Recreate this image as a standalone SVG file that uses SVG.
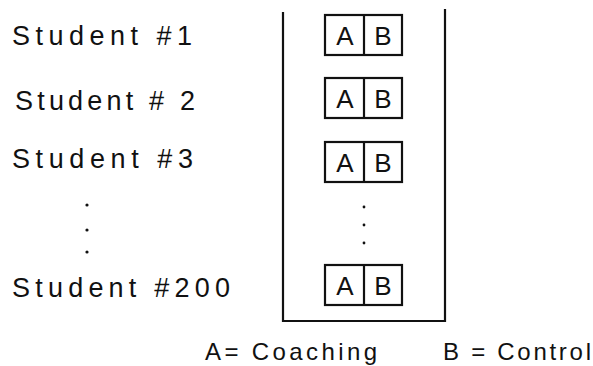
<svg xmlns="http://www.w3.org/2000/svg" width="593" height="366" viewBox="0 0 593 366">
<style>
  .lbl { font-family: "Liberation Sans", Arial, sans-serif; font-size: 27px; fill: #111; }
  .cell { font-family: "Liberation Sans", Arial, sans-serif; font-size: 26px; fill: #111; text-anchor: middle; }
  .leg { font-family: "Liberation Sans", Arial, sans-serif; font-size: 24px; fill: #111; }
  .box { fill: none; stroke: #111; stroke-width: 2.2; }
  .dot { fill: #111; }
</style>
<defs>
  <g id="ab">
    <rect class="box" x="0" y="0" width="77" height="40"/>
    <line class="box" x1="39" y1="0" x2="39" y2="40"/>
    <text class="cell" x="20" y="30">A</text>
    <text class="cell" x="58" y="30">B</text>
  </g>
</defs>
<g id="frame">
  <path class="box" d="M283,12 L283,321 L445,321 L445,9"/>
</g>
<g id="student1"><text class="lbl" x="12" y="45" textLength="180" lengthAdjust="spacing">Student #1</text></g>
<g id="student2"><text class="lbl" x="15" y="110" textLength="180" lengthAdjust="spacing">Student # 2</text></g>
<g id="student3"><text class="lbl" x="12" y="168" textLength="181" lengthAdjust="spacing">Student #3</text></g>
<g id="student200"><text class="lbl" x="12" y="297" textLength="218" lengthAdjust="spacing">Student #200</text></g>
<g id="left-dots">
  <circle class="dot" cx="87" cy="205" r="1.6"/>
  <circle class="dot" cx="87" cy="230" r="1.6"/>
  <circle class="dot" cx="87" cy="252" r="1.6"/>
</g>
<g id="pair1"><use href="#ab" x="325" y="15"/></g>
<g id="pair2"><use href="#ab" x="325" y="78"/></g>
<g id="pair3"><use href="#ab" x="325" y="142"/></g>
<g id="pair200"><use href="#ab" x="325" y="265"/></g>
<g id="box-dots">
  <circle class="dot" cx="364" cy="207" r="1.4"/>
  <circle class="dot" cx="364" cy="225" r="1.4"/>
  <circle class="dot" cx="364" cy="243" r="1.4"/>
</g>
<g id="connectors"></g>
<g id="legend">
  <text class="leg" x="205" y="360" textLength="172" lengthAdjust="spacing">A= Coaching</text>
  <text class="leg" x="443" y="360" textLength="148" lengthAdjust="spacing">B = Control</text>
</g>
</svg>
